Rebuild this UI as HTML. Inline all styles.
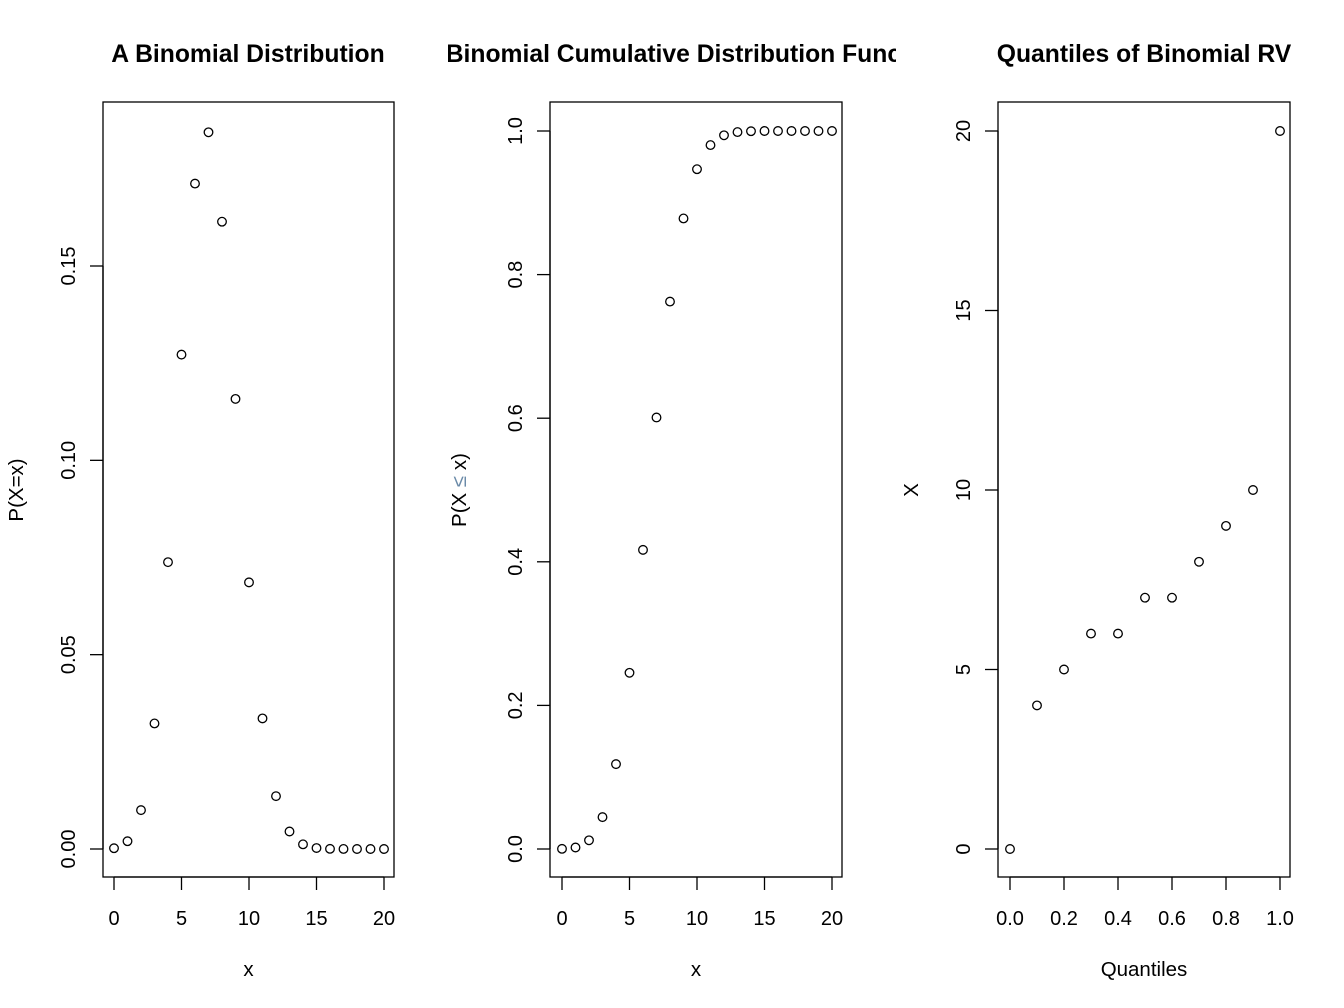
<!DOCTYPE html>
<html><head><meta charset="utf-8"><style>
html,body{margin:0;padding:0;background:#fff}
svg{display:block;font-family:"Liberation Sans",Arial,sans-serif}
</style></head><body>
<svg id="c" width="1344" height="1008" viewBox="0 0 1344 1008" xmlns="http://www.w3.org/2000/svg">
<defs><clipPath id="fig2"><rect x="448" y="0" width="448" height="1008"/></clipPath></defs>
</svg>
<script>
const xs = [0,1,2,3,4,5,6,7,8,9,10,11,12,13,14,15,16,17,18,19,20];
const pmf = [0.0002,0.002,0.01,0.0323,0.0738,0.1272,0.1712,0.1844,0.1614,0.1158,0.0686,0.0336,0.0136,0.0045,0.0012,0.00025,0.00004,0.00001,0,0,0];
const cdf = [0.0002,0.0021,0.0121,0.0444,0.1182,0.2454,0.4166,0.6010,0.7624,0.8782,0.9468,0.9804,0.9940,0.9985,0.9997,1,1,1,1,1,1];
const qProbs = [0,0.1,0.2,0.3,0.4,0.5,0.6,0.7,0.8,0.9,1.0];
const qVals = [0,4,5,6,6,7,7,8,9,10,20];
const xTicks12 = [0,5,10,15,20];
const xTickLabels12 = ["0","5","10","15","20"];
const yTicks1 = [0,0.05,0.10,0.15];
const yTickLabels1 = ["0.00","0.05","0.10","0.15"];
const yTicks2 = [0,0.2,0.4,0.6,0.8,1.0];
const yTickLabels2 = ["0.0","0.2","0.4","0.6","0.8","1.0"];
const xTicks3 = [0,0.2,0.4,0.6,0.8,1.0];
const xTickLabels3 = ["0.0","0.2","0.4","0.6","0.8","1.0"];
const yTicks3 = [0,5,10,15,20];
const yTickLabels3 = ["0","5","10","15","20"];

const svg = document.getElementById('c');
const NS = "http://www.w3.org/2000/svg";
function mk(tag, attrs, parent){const e=document.createElementNS(NS,tag);for(const k in attrs)e.setAttribute(k,attrs[k]);(parent||svg).appendChild(e);return e;}

function panel(o){
  const g = mk('g',{});
  
  
  const sx = v => o.px0 + (v - o.xmin) * (o.px1 - o.px0) / (o.xmax - o.xmin);
  const sy = v => o.py0 + (v - o.ymin) * (o.py1 - o.py0) / (o.ymax - o.ymin);
  const box = mk('rect',{x:o.bx,y:102,width:o.bw,height:775,fill:'none',stroke:'#000','stroke-width':1.3},g);
  
  
  const xa = mk('g',{},g);
  
  
  mk('line',{x1:sx(o.xt[0]),x2:sx(o.xt[o.xt.length-1]),y1:877,y2:877,stroke:'#000','stroke-width':1.3},xa);
  o.xt.forEach((t,i)=>{
    mk('line',{x1:sx(t),x2:sx(t),y1:877,y2:890,stroke:'#000','stroke-width':1.3},xa);
    const tx = mk('text',{x:sx(t),y:925,'font-size':20,'text-anchor':'middle'},xa);
    tx.textContent = o.xl[i];
    
    
  });
  const ya = mk('g',{},g);
  
  
  mk('line',{x1:o.bx,x2:o.bx,y1:sy(o.yt[0]),y2:sy(o.yt[o.yt.length-1]),stroke:'#000','stroke-width':1.3},ya);
  o.yt.forEach((t,i)=>{
    mk('line',{x1:o.bx,x2:o.bx-13,y1:sy(t),y2:sy(t),stroke:'#000','stroke-width':1.3},ya);
    const tx = mk('text',{x:o.bx-28,y:sy(t),'font-size':20,'text-anchor':'middle',transform:`rotate(-90 ${o.bx-28} ${sy(t)})`},ya);
    tx.textContent = o.yl[i];
    
    
  });
  o.px.forEach((v,i)=>{
    const c = mk('circle',{cx:sx(v),cy:sy(o.py[i]),r:4.3,fill:'none',stroke:'#000','stroke-width':1.3},g);
    
    
  });
  const t = mk('text',{x:o.tx,y:62,'font-size':24.7,'font-weight':'bold','text-anchor':'middle'},g);
  if(o.clip) t.setAttribute('clip-path','url(#fig2)');
  t.textContent = o.title;
  
  
  const xt = mk('text',{x:o.bx+o.bw/2,y:976,'font-size':20.5,'text-anchor':'middle'},g);
  xt.textContent = o.xlab;
  
  
  const yt = mk('text',{x:o.ylx,y:490,'font-size':20.5,'text-anchor':'middle',transform:`rotate(-90 ${o.ylx} 490)`},g);
  yt.innerHTML = o.ylab;
  
  
}

panel({name:'pmf-panel',bx:103,bw:291,px0:114,px1:384,xmin:0,xmax:20,py0:849,py1:266,ymin:0,ymax:0.15,
  xt:xTicks12,xl:xTickLabels12,yt:yTicks1,yl:yTickLabels1,px:xs,py:pmf,tx:248,title:'A Binomial Distribution',xlab:'x',ylab:'P(X=x)',ylx:23});
panel({name:'cdf-panel',bx:550,bw:292,px0:562,px1:832,xmin:0,xmax:20,py0:849,py1:131,ymin:0,ymax:1,
  xt:xTicks12,xl:xTickLabels12,yt:yTicks2,yl:yTickLabels2,px:xs,py:cdf,tx:696,clip:true,title:'Binomial Cumulative Distribution Function',xlab:'x',ylab:'P(X <tspan fill="#6a8aa8">≤</tspan> x)',ylx:466});
panel({name:'quantile-panel',bx:998,bw:292,px0:1010,px1:1280,xmin:0,xmax:1,py0:849,py1:131,ymin:0,ymax:20,
  xt:xTicks3,xl:xTickLabels3,yt:yTicks3,yl:yTickLabels3,px:qProbs,py:qVals,tx:1144,title:'Quantiles of Binomial RV',xlab:'Quantiles',ylab:'X',ylx:918});
</script>
</body></html>
